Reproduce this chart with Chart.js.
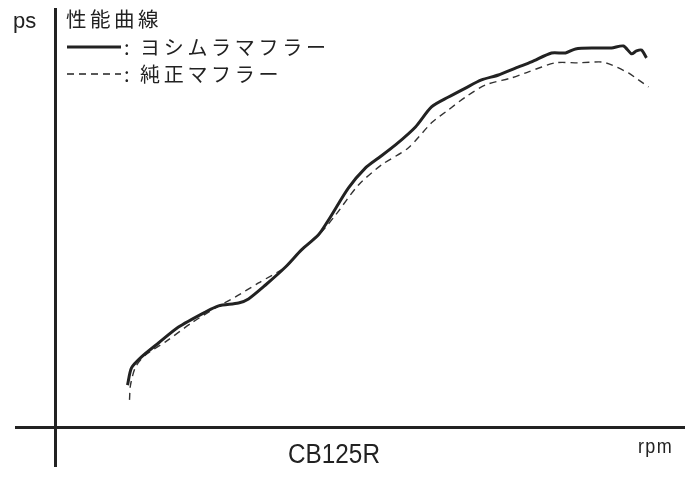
<!DOCTYPE html>
<html><head><meta charset="utf-8">
<script src="https://cdn.jsdelivr.net/npm/chart.js@4"></script>
<style>html,body{margin:0;padding:0;background:#fff}#wrap{width:692px;height:477px}</style>
</head><body><div id="wrap"><canvas id="c" width="692" height="477"></canvas></div>
<script>
const chartTitle = "性能曲線";
const xAxisTitle = "CB125R";
const xUnit = "rpm";
const yUnit = "ps";
const seriesNames = ["ヨシムラマフラー", "純正マフラー"];
// rpm (arbitrary scale, no ticks shown) and ps
const yoshimuraRpm = [1152,1216,1376,1648,1968,2400,2608,2928,3088,3360,3680,3936,4208,4368,4688,4960,5168,5440,5760,6016,6288,6560,6816,7088,7360,7616,7936,8160,8320,8640,8896,9088,9216,9296,9376,9456];
const yoshimuraPs  = [1.48,2.07,2.45,2.93,3.48,4.00,4.21,4.31,4.45,4.93,5.55,6.14,6.66,7.17,8.28,8.97,9.31,9.76,10.38,11.07,11.41,11.72,12.00,12.17,12.41,12.62,12.93,12.93,13.07,13.10,13.10,13.17,12.90,13.00,13.03,12.76];
const stockRpm = [1184,1200,1280,1440,1760,2176,2560,2880,3248,3680,3888,4256,4480,4848,5216,5648,6016,6288,6560,6880,7296,7568,8000,8368,8736,8896,9168,9328,9488];
const stockPs  = [0.97,1.48,2.10,2.52,2.97,3.62,4.14,4.52,5.00,5.55,6.03,6.76,7.34,8.38,9.07,9.66,10.52,10.97,11.41,11.83,12.07,12.28,12.59,12.59,12.62,12.52,12.24,12.00,11.76];

const toPts = (xs, ys) => xs.map((x, i) => ({x, y: ys[i]}));
const INK = '#222';

const textPlugin = {
  id: 'texts',
  afterDraw(chart) {
    const c = chart.ctx;
    c.save();
    c.fillStyle = INK;
    c.textAlign = 'left';
    c.textBaseline = 'alphabetic';
    c.font = '22px "Liberation Sans", sans-serif';
    c.fillText(yUnit, 13, 28);
    c.textBaseline = 'middle';
    c.letterSpacing = '3.5px';
    c.font = '20.5px "Noto Sans CJK JP", sans-serif';
    c.fillText(chartTitle, 66, 19);
    // legend
    const rows = [{y: 47, ds: chart.data.datasets[0]}, {y: 74, ds: chart.data.datasets[1]}];
    rows.forEach(r => {
      c.save();
      c.strokeStyle = INK;
      c.lineWidth = r.ds.borderWidth;
      c.setLineDash(r.ds.borderDash || []);
      c.beginPath(); c.moveTo(67, r.y); c.lineTo(121, r.y); c.stroke();
      c.restore();
      c.letterSpacing = '0px';
      c.font = '20px "Noto Sans CJK JP", sans-serif';
      c.fillText(':', 124, r.y);
      c.letterSpacing = '3.7px';
      c.fillText(r.ds.label, 140, r.y);
    });
    c.letterSpacing = '0px';
    c.textBaseline = 'alphabetic';
    c.save();
    c.translate(334, 463);
    c.scale(0.9, 1);
    c.font = '27px "Liberation Sans", sans-serif';
    c.textAlign = 'center';
    c.fillText(xAxisTitle, 0, 0);
    c.restore();
    c.save();
    c.translate(638, 453);
    c.scale(0.9, 1);
    c.letterSpacing = '1.5px';
    c.font = '20px "Liberation Sans", sans-serif';
    c.textAlign = 'left';
    c.fillText(xUnit, 0, 0);
    c.restore();
    c.restore();
  }
};

const axisGrid = {
  color: ctx => (ctx.tick && ctx.tick.value === 0) ? INK : 'rgba(0,0,0,0)',
  lineWidth: 3,
  drawTicks: false
};

new Chart(document.getElementById('c'), {
  type: 'line',
  data: {
    datasets: [
      {label: seriesNames[0], data: toPts(yoshimuraRpm, yoshimuraPs), borderColor: INK, borderWidth: 3, pointRadius: 0, tension: 0.25, fill: false},
      {label: seriesNames[1], data: toPts(stockRpm, stockPs), borderColor: '#333', borderWidth: 1.4, borderDash: [7, 5], pointRadius: 0, tension: 0.25, fill: false}
    ]
  },
  options: {
    responsive: false,
    animation: false,
    events: [],
    layout: {padding: {left: 15, right: 7, top: 8, bottom: 10}},
    plugins: {legend: {display: false}, title: {display: false}, tooltip: {enabled: false}},
    scales: {
      x: {type: 'linear', min: -648, max: 10072, ticks: {display: false}, border: {display: false}, grid: axisGrid,
          afterBuildTicks: s => { s.ticks = [{value: 0}]; }},
      y: {type: 'linear', min: -1.345, max: 14.48, ticks: {display: false}, border: {display: false}, grid: axisGrid,
          afterBuildTicks: s => { s.ticks = [{value: 0}]; }}
    }
  },
  plugins: [textPlugin]
});
</script>
</body></html>
